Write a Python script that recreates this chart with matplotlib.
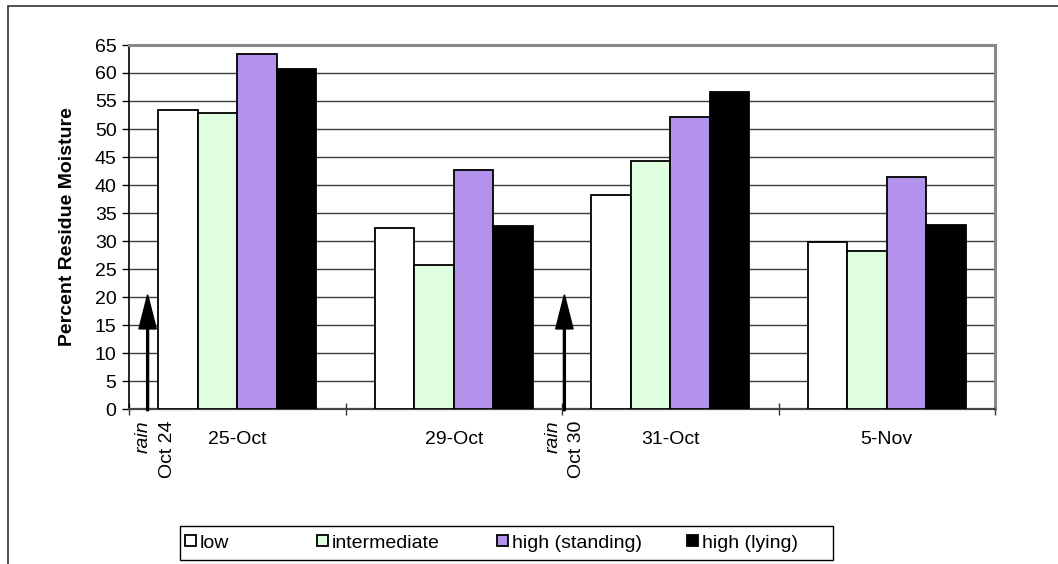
import matplotlib
matplotlib.use("Agg")
import matplotlib.pyplot as plt
from matplotlib.patches import Rectangle
import numpy as np

plt.rcParams['font.family'] = ['Liberation Sans', 'DejaVu Sans']

# Sampling dates and residue moisture (%) per residue level
dates = ["25-Oct", "29-Oct", "31-Oct", "5-Nov"]
series_names = ["low", "intermediate", "high (standing)", "high (lying)"]
low = [53.4, 32.4, 38.2, 29.8]
intermediate = [52.9, 25.8, 44.3, 28.2]
high_standing = [63.4, 42.7, 52.1, 41.5]
high_lying = [60.7, 32.7, 56.6, 32.8]
series_colors = ["#FFFFFF", "#DFFDDF", "#B392EC", "#000000"]

# Rain events, placed between sampling dates on the category axis
rain_pos = [-0.414, 1.511]
rain_dates = ["Oct 24", "Oct 30"]
rain_arrow_top = 20.4

yticks = list(range(0, 66, 5))

FS = 14
W, H = 1058, 564
fig = plt.figure(figsize=(W / 100, H / 100), dpi=100)
ax = fig.add_axes([129 / W, 1 - 409 / H, (995 - 129) / W, (409 - 45) / H])

# Outer chart frame
fig.patches.append(Rectangle((8 / W, -0.1), 1.2, 1 - 6 / H + 0.1,
                             transform=fig.transFigure, fill=False,
                             edgecolor="#333333", linewidth=1.2))

x = np.arange(len(dates))
bw = 0.1825
data = [low, intermediate, high_standing, high_lying]
bars = []
for i, (vals, col, name) in enumerate(zip(data, series_colors, series_names)):
    b = ax.bar(x + (i - 1.5) * bw, vals, width=bw, color=col,
               edgecolor="black", linewidth=1.3, label=name, zorder=3)
    bars.append(b)

ax.set_xlim(-0.5, len(dates) - 0.5)
ax.set_ylim(0, 65)
ax.set_yticks(yticks)
ax.set_axisbelow(True)
ax.yaxis.grid(True, color="#3c3c3c", linewidth=1.0)

# Category labels centred on groups, tick marks on the group boundaries
ax.set_xticks(x)
ax.set_xticklabels(dates, fontsize=FS)
ax.tick_params(axis="x", which="major", length=0, pad=16)
ax.set_xticks(np.arange(len(dates) + 1) - 0.5, minor=True)
ax.tick_params(axis="x", which="minor", direction="inout", length=9,
               width=1, color="#333333")
ax.tick_params(axis="y", direction="out", length=5, width=1, pad=4,
               labelsize=FS)

for side in ("top", "right"):
    ax.spines[side].set_color("#888888")
    ax.spines[side].set_linewidth(2.2)
ax.spines["left"].set_color("black")
ax.spines["left"].set_linewidth(1.2)
ax.spines["bottom"].set_color("#444444")
ax.spines["bottom"].set_linewidth(1.6)

ax.set_ylabel("Percent Residue Moisture", fontsize=FS, fontweight="bold")
ax.yaxis.set_label_coords((76 - 129) / (995 - 129), 0.5)

# Rain arrows with rotated labels
label_dx = [(-0.020, 0.094), (-0.051, 0.057)]
for pos, d, (dr, dd) in zip(rain_pos, rain_dates, label_dx):
    ax.arrow(pos, -0.3, 0, rain_arrow_top + 0.3, width=0.009,
             head_width=0.08, head_length=6.1, length_includes_head=True,
             color="black", zorder=4, clip_on=False)
    ax.text(pos + dr, -2.0, "rain", rotation=90, ha="center", va="top",
            fontsize=FS, style="italic")
    ax.text(pos + dd, -2.0, d, rotation=90, ha="center", va="top",
            fontsize=FS)

# Legend: one frame holding four entries spread across it
fig.patches.append(Rectangle((180 / W, 1 - 560 / H), 653 / W, 34 / H,
                             transform=fig.transFigure, fill=False,
                             edgecolor="black", linewidth=1.0))
entry_x = [185, 317, 497, 687]
for b, name, ex in zip(bars, series_names, entry_x):
    lg = fig.legend(handles=[b], labels=[name], loc="center left",
                    bbox_to_anchor=(ex / W, 1 - 543 / H), frameon=False,
                    fontsize=FS, handlelength=0.55, handleheight=0.55,
                    handletextpad=0.2, borderpad=0, borderaxespad=0)

fig.savefig("out.png", dpi=100)
